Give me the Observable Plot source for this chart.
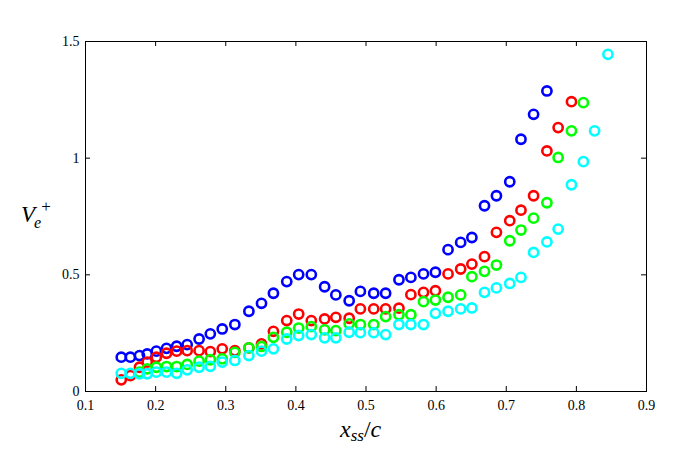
<!DOCTYPE html>
<html>
<head>
<meta charset="utf-8">
<script src="https://cdn.jsdelivr.net/npm/d3@7"></script>
<script src="https://cdn.jsdelivr.net/npm/@observablehq/plot@0.6"></script>
<style>
  html, body { margin: 0; padding: 0; background: #fff; }
  #chart svg { display: block; }
</style>
</head>
<body>
<div id="chart"></div>
<script>
// Shared x grid (x_ss / c)
const xGrid = [0.151,0.164,0.177,0.188,0.201,0.2155,0.230,0.245,0.262,0.278,
               0.295,0.313,0.333,0.351,0.368,0.387,0.404,0.422,0.441,0.457,
               0.476,0.492,0.511,0.528,0.547,0.564,0.582,0.599,0.617,0.635,
               0.651,0.669,0.686,0.705,0.721,0.739,0.758,0.774,0.793,0.810,
               0.826,0.845];

// Series values (V_e^+)
const blueX = xGrid.slice(0, 37);
const blueY = [0.147,0.147,0.154,0.161,0.173,0.185,0.194,0.201,0.225,0.247,
               0.268,0.287,0.344,0.378,0.421,0.471,0.501,0.501,0.449,0.414,
               0.389,0.429,0.421,0.421,0.479,0.489,0.504,0.511,0.608,0.639,
               0.660,0.796,0.839,0.899,1.081,1.188,1.288];

const redX = xGrid.slice(0, 39);
const redY = [0.050,0.068,0.104,0.126,0.147,0.164,0.173,0.175,0.175,0.171,
              0.183,0.175,0.187,0.204,0.258,0.304,0.332,0.304,0.311,0.318,
              0.314,0.354,0.354,0.354,0.357,0.415,0.425,0.432,0.504,0.525,
              0.546,0.578,0.682,0.732,0.777,0.839,1.031,1.131,1.242];

const greenX = xGrid.slice(2, 40);
const greenY = [0.083,0.097,0.104,0.107,0.107,0.116,0.130,0.136,0.140,0.168,
                0.187,0.193,0.232,0.254,0.272,0.278,0.264,0.261,0.290,0.287,
                0.287,0.321,0.329,0.329,0.385,0.392,0.404,0.414,0.492,0.515,
                0.542,0.646,0.692,0.743,0.809,1.003,1.117,1.238];

const cyanX = xGrid.slice(0, 42);
const cyanY = [0.078,0.078,0.076,0.076,0.083,0.083,0.078,0.093,0.104,0.108,
               0.126,0.133,0.154,0.173,0.183,0.225,0.240,0.244,0.230,0.230,
               0.254,0.252,0.252,0.244,0.287,0.287,0.287,0.335,0.344,0.354,
               0.358,0.425,0.444,0.463,0.489,0.596,0.641,0.696,0.886,0.985,
               1.117,1.445];

const xTicks = [0.1,0.2,0.3,0.4,0.5,0.6,0.7,0.8,0.9];
const xTickLabels = ["0.1","0.2","0.3","0.4","0.5","0.6","0.7","0.8","0.9"];
const yTicks = [0, 0.5, 1, 1.5];
const yTickLabels = ["0","0.5","1","1.5"];

const series = [
  {name: "blue",  color: "#0000ff", xs: blueX,  ys: blueY},
  {name: "red",   color: "#ff0000", xs: redX,   ys: redY},
  {name: "green", color: "#00ff00", xs: greenX, ys: greenY},
  {name: "cyan",  color: "#00ffff", xs: cyanX,  ys: cyanY}
];
const rows = series.map(s => s.xs.map((x, i) => ({x, y: s.ys[i], color: s.color})));

const W = 681, H = 454;
const mL = 85, mR = 35, mT = 41, mB = 63;
const plotH = H - mT - mB;
const plotW = W - mL - mR;
const TL = 5;

const chart = Plot.plot({
  width: W,
  height: H,
  marginLeft: mL,
  marginRight: mR,
  marginTop: mT,
  marginBottom: mB,
  style: {fontFamily: "'Liberation Serif', 'Times New Roman', serif", fontSize: "14px", background: "#fff", color: "#000"},
  x: {domain: [0.1, 0.9]},
  y: {domain: [0, 1.5]},
  marks: [
    Plot.axisX(xTicks, {tickSize: 0, tickPadding: 9, tickFormat: (d, i) => xTickLabels[i], fontSize: 14, label: null}),
    Plot.axisY(yTicks, {tickSize: 0, tickPadding: 6, tickFormat: (d, i) => yTickLabels[i], fontSize: 14, label: null}),
    // inward ticks on all four sides
    Plot.tickX(xTicks, {x: d => d, stroke: "#000", strokeWidth: 1, insetTop: plotH - TL}),
    Plot.tickX(xTicks, {x: d => d, stroke: "#000", strokeWidth: 1, insetBottom: plotH - TL}),
    Plot.tickY(yTicks, {y: d => d, stroke: "#000", strokeWidth: 1, insetRight: plotW - TL}),
    Plot.tickY(yTicks, {y: d => d, stroke: "#000", strokeWidth: 1, insetLeft: plotW - TL}),
    ...rows.map(r => Plot.dot(r, {x: "x", y: "y", r: 4.6, stroke: "color", strokeWidth: 2.6, fill: "none"})),
    Plot.frame({stroke: "#000", strokeWidth: 1})
  ]
});

const svg = d3.select(chart);
// x axis label: x_{ss}/c
const xl = svg.append("text")
  .attr("x", 340).attr("y", 437)
  .attr("text-anchor", "start")
  .attr("font-family", "'Liberation Serif', serif")
  .attr("font-size", 24)
  .attr("fill", "#000");
xl.append("tspan").attr("font-style", "italic").text("x");
xl.append("tspan").attr("font-style", "italic").attr("font-size", 17).attr("dy", 4).text("ss");
xl.append("tspan").attr("dy", -4).text("/");
xl.append("tspan").attr("font-style", "italic").text("c");

// y axis label: V_e^+
const yl = svg.append("text")
  .attr("x", 21).attr("y", 222)
  .attr("text-anchor", "start")
  .attr("font-family", "'Liberation Serif', serif")
  .attr("font-size", 23)
  .attr("fill", "#000");
yl.append("tspan").attr("font-style", "italic").text("V");
yl.append("tspan").attr("font-style", "italic").attr("font-size", 16).attr("dx", -1).attr("dy", 6).text("e");
yl.append("tspan").attr("font-size", 17).attr("dy", -16).text("+");

document.getElementById("chart").appendChild(chart);
</script>
</body>
</html>
